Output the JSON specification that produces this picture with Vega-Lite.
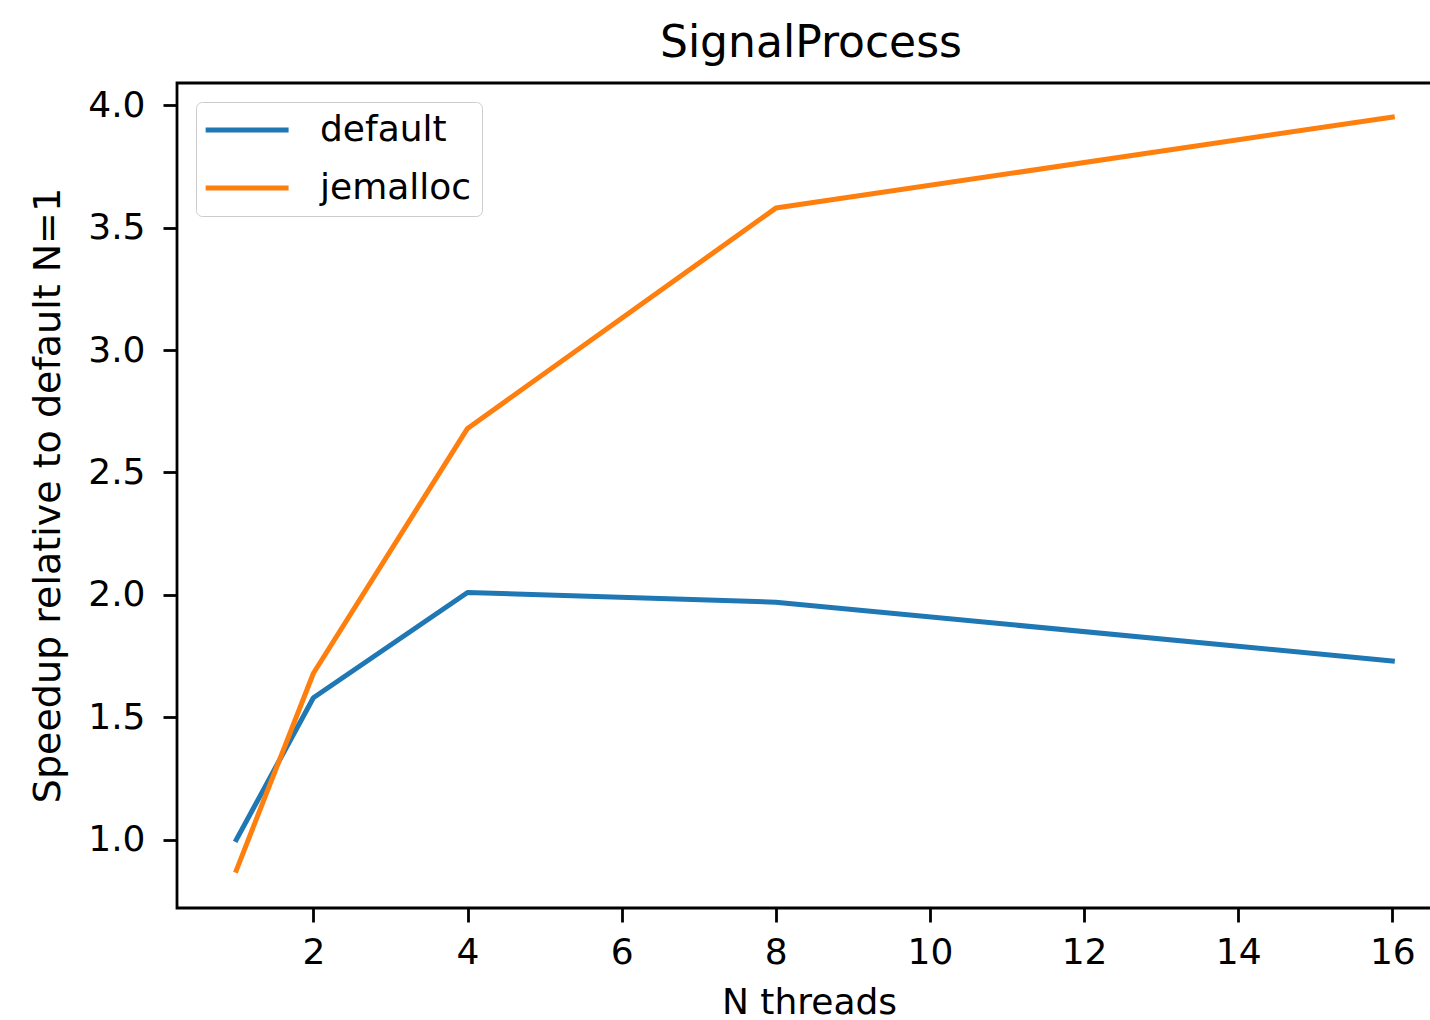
{
  "$schema": "https://vega.github.io/schema/vega-lite/v6.json",
  "autosize": {"type": "none"},
  "padding": {"left": 177, "top": 83, "right": 0, "bottom": 112},
  "width": 1260,
  "height": 825,
  "background": "white",
  "title": {
    "text": "SignalProcess",
    "fontSize": 44,
    "font": "DejaVu Sans",
    "fontWeight": "normal",
    "color": "black",
    "anchor": "middle",
    "baseline": "alphabetic",
    "offset": -18,
    "dx": 4
  },
  "data": {
    "values": [
      {"threads": 1, "allocator": "default", "speedup": 1.0},
      {"threads": 2, "allocator": "default", "speedup": 1.58},
      {"threads": 4, "allocator": "default", "speedup": 2.01},
      {"threads": 8, "allocator": "default", "speedup": 1.97},
      {"threads": 16, "allocator": "default", "speedup": 1.73},
      {"threads": 1, "allocator": "jemalloc", "speedup": 0.875},
      {"threads": 2, "allocator": "jemalloc", "speedup": 1.68},
      {"threads": 4, "allocator": "jemalloc", "speedup": 2.68},
      {"threads": 8, "allocator": "jemalloc", "speedup": 3.58},
      {"threads": 16, "allocator": "jemalloc", "speedup": 3.952}
    ]
  },
  "mark": {"type": "line", "strokeWidth": 5, "strokeCap": "square", "strokeJoin": "round"},
  "encoding": {
    "x": {
      "field": "threads",
      "type": "quantitative",
      "scale": {"domain": [0.23, 16.58], "nice": false, "zero": false},
      "axis": {
        "values": [2, 4, 6, 8, 10, 12, 14, 16],
        "labelBaseline": "alphabetic",
        "labelPadding": 41,
        "title": "N threads",
        "titleX": 632,
        "titleY": 105,
        "titleBaseline": "alphabetic",
        "titleAlign": "center"
      }
    },
    "y": {
      "field": "speedup",
      "type": "quantitative",
      "scale": {"domain": [0.721, 4.091], "nice": false, "zero": false},
      "axis": {
        "values": [1, 1.5, 2, 2.5, 3, 3.5, 4],
        "format": ".1f",
        "labelPadding": 18,
        "title": "Speedup relative to default N=1",
        "titleFontSize": 38,
        "titleAngle": -90,
        "titleX": -118,
        "titleY": 412,
        "titleAlign": "center",
        "titleBaseline": "alphabetic"
      }
    },
    "color": {
      "field": "allocator",
      "type": "nominal",
      "scale": {"domain": ["default", "jemalloc"], "range": ["#1f77b4", "#ff7f0e"]},
      "legend": {
        "orient": "none",
        "legendX": 19,
        "legendY": 19,
        "title": null,
        "symbolType": "M-1.77,0H6.23",
        "symbolSize": 430,
        "symbolStrokeWidth": 5,
        "labelFontSize": 36,
        "labelFont": "DejaVu Sans",
        "labelColor": "black",
        "labelOffset": 78,
        "rowPadding": 22,
        "fillColor": "white",
        "strokeColor": "#cccccc",
        "cornerRadius": 6,
        "padding": 10
      }
    }
  },
  "config": {
    "view": {"stroke": "black", "strokeWidth": 2.8},
    "axis": {
      "domain": false,
      "grid": false,
      "tickColor": "black",
      "tickWidth": 2.8,
      "tickSize": 14,
      "labelFont": "DejaVu Sans",
      "labelFontSize": 36,
      "labelColor": "black",
      "labelFlush": false,
      "labelOverlap": false,
      "titleFont": "DejaVu Sans",
      "titleFontSize": 36,
      "titleFontWeight": "normal",
      "titleColor": "black"
    }
  }
}
